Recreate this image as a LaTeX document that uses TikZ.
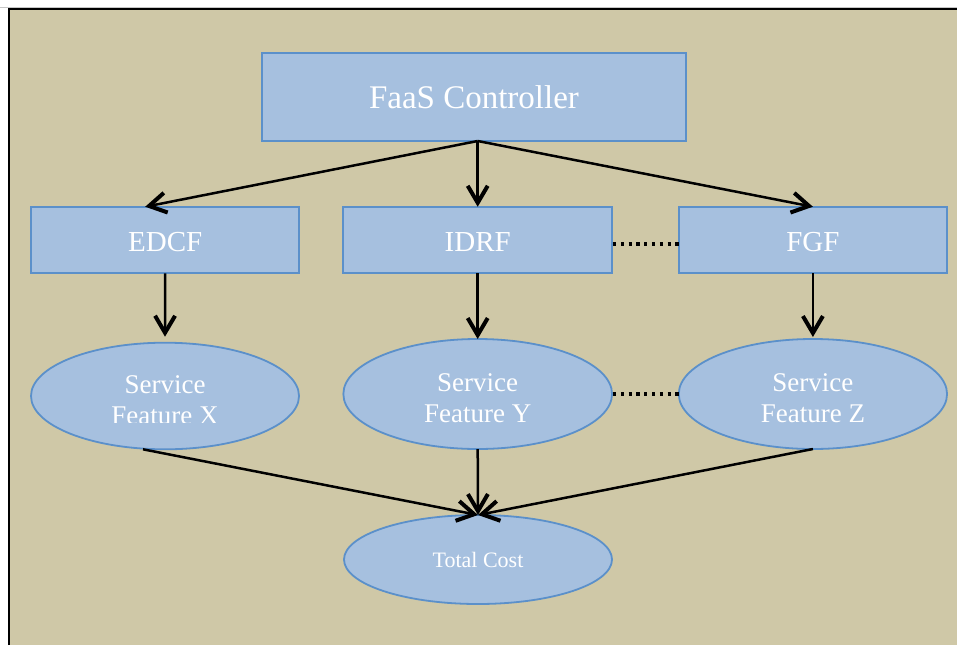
\documentclass[tikz,border=0pt]{standalone}
\usepackage{fontspec}
\setmainfont{Liberation Serif}
\usetikzlibrary{shapes.geometric,arrows.meta,calc}
\definecolor{khaki}{HTML}{CFC8A7}
\definecolor{boxfill}{HTML}{A6C0DF}
\definecolor{boxline}{HTML}{5B90CA}
\begin{document}
\begin{tikzpicture}[x=1pt,y=-1pt,
  box/.style={rectangle, draw=boxline, fill=boxfill, line width=2pt,
    inner sep=0pt, outer sep=0pt, text=white, text depth=0pt},
  oval/.style={ellipse, draw=boxline, fill=boxfill, line width=1.8pt,
    inner sep=0pt, outer sep=0pt, text=white, text depth=0pt},
  txt/.style={text=white, inner sep=0pt, outer sep=0pt, anchor=base,
    font=\fontsize{27}{30}\selectfont},
  link/.style={line width=2.5pt,
    -{Straight Barb[length=17pt,width=20pt,line width=4pt]}},
  dots/.style={line width=3.2pt, dash pattern=on 3.2pt off 4.6pt}]

% page, sheet and its frame
\useasboundingbox (0,0) rectangle (957,645);
\fill[white] (0,0) rectangle (957,645);
\fill[khaki] (9,9) rectangle (957,645);
\draw[gray!45, line width=0.8pt] (0,7) -- (957,7);
\draw[black, line width=2.2pt] (9,645) -- (9,9) -- (957,9);

% controller
\node[box, minimum width=424pt, minimum height=88pt, text height=22.6pt,
  font=\fontsize{33}{40}\selectfont] (fc) at (474,97) {FaaS Controller};

% feature functions
\begin{scope}[every node/.append style={minimum width=268.5pt, minimum height=66.5pt,
    text height=23.4pt, font=\fontsize{29}{34}\selectfont}]
  \node[box] (ed) at (165.2,240) {EDCF};
  \node[box] (id) at (477.7,240) {IDRF};
  \node[box] (fg) at (812.9,240) {FGF};
\end{scope}

% service features
\node[oval, minimum width=268pt, minimum height=106.6pt] (sx) at (165,396) {};
\node[oval, minimum width=268.7pt, minimum height=110pt] (sy) at (477.7,394) {};
\node[oval, minimum width=268.3pt, minimum height=110pt] (sz) at (812.9,394) {};

\node[txt] (sxa) at (165,393.8) {Service};
\begin{scope}
  \clip (31,300) rectangle (299,422.7);
  \node[txt] (sxb) at (165,424.6) {Feature X};
\end{scope}
\node[txt] (sya) at (477.7,391.7) {Service};
\node[txt] (syb) at (477.7,422.3) {Feature Y};
\node[txt] (sza) at (812.9,391.7) {Service};
\node[txt] (szb) at (812.9,422.3) {Feature Z};

% total
\node[oval, minimum width=268pt, minimum height=89pt, text height=15.6pt,
  font=\fontsize{22}{26}\selectfont] (tc) at (478,559.5) {Total Cost};

% connectors
\draw[link] (fc.south -| id.north) -- ($(ed.north)+(-20,0)$);
\draw[link] (fc.south -| id.north) -- (id.north);
\draw[link] (fc.south -| id.north) -- (fg.north);
\draw[link] (ed.south) -- ($(sx.north)+(0,-6)$);
\draw[link] (id.south) -- (sy.north);
\draw[link] (fg.south) -- ($(sz.north)+(0,-2)$);
\draw[link] ($(sx.south)+(-22,0)$) -- (tc.north);
\draw[link] (sy.south) -- (tc.north);
\draw[link] (sz.south) -- (tc.north);

% continuation dots
\draw[dots] ($(id.east)+(1,4)$) -- ($(fg.west)+(0,4)$);
\draw[dots] ($(sy.east)+(1,0)$) -- (sz.west);
\end{tikzpicture}
\end{document}
